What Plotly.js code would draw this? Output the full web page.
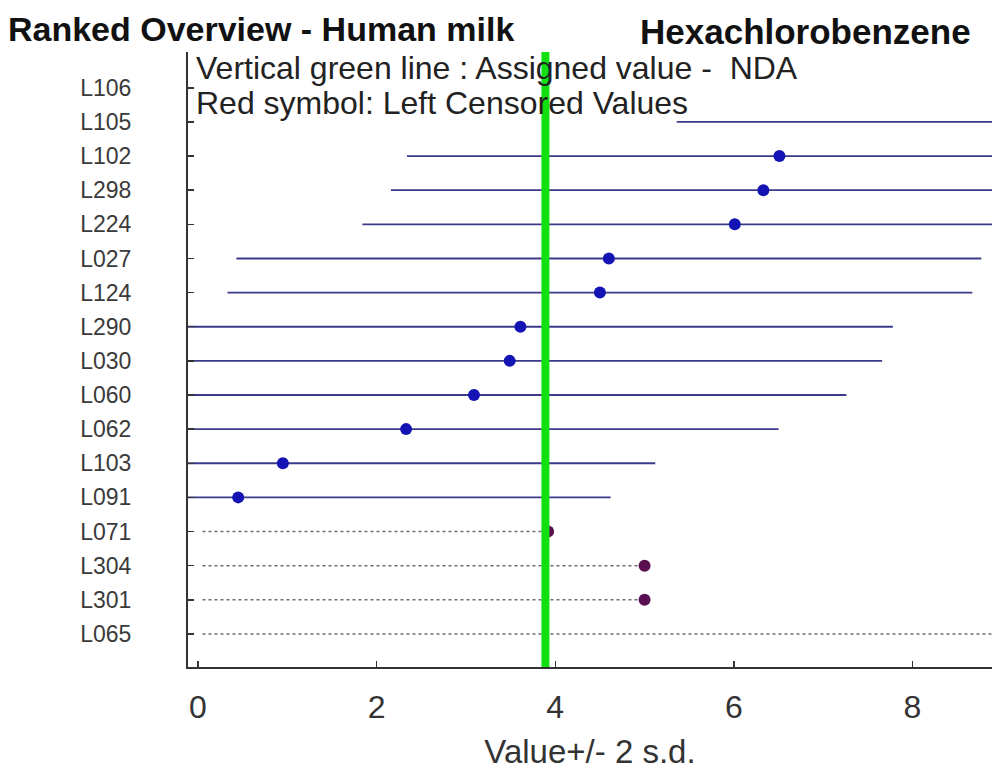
<!DOCTYPE html>
<html>
<head>
<meta charset="utf-8">
<script src="https://cdn.plot.ly/plotly-3.0.1.min.js"></script>
<style>html,body{margin:0;padding:0;background:#fff;}#chart{width:992px;height:773px;}</style>
</head>
<body>
<div id="chart"></div>
<script>
// Labs with reported values (bottom to top order within this group)
const reportedLabs = ["L091","L103","L062","L060","L030","L290","L124","L027","L224","L298","L102","L105","L106"];
const reportedValues = [0.45, 0.95, 2.33, 3.09, 3.49, 3.61, 4.50, 4.60, 6.01, 6.33, 6.51, 9.53, 14.0];
const twoSd = [4.17, 4.17, 4.17, 4.17, 4.17, 4.17, 4.17, 4.17, 4.17, 4.17, 4.17, 4.17, 4.17];

// Left censored labs ("<" values)
const censoredLabs = ["L065","L301","L304","L071"];
const censoredValues = [10.0, 5.0, 5.0, 3.92];

// All categories bottom -> top
const categories = ["L065","L301","L304","L071","L091","L103","L062","L060","L030","L290","L124","L027","L224","L298","L102","L105","L106"];

const assignedValue = 3.89;
const xTicks = [0, 2, 4, 6, 8];

// dotted lines from 0 to the censored value
const cx = [], cy = [];
censoredLabs.forEach((lab, i) => { cx.push(0.05, censoredValues[i], null); cy.push(lab, lab, null); });

const traces = [
  {
    type: 'scatter', mode: 'lines', x: cx, y: cy,
    line: {color: '#6e6e6e', width: 1.5, dash: 'dot'},
    hoverinfo: 'skip', showlegend: false
  },
  {
    type: 'scatter', mode: 'markers', x: reportedValues, y: reportedLabs,
    marker: {color: '#1414b4', size: 12},
    error_x: {type: 'data', array: twoSd, visible: true, color: '#3a3a88', thickness: 1.8, width: 0},
    showlegend: false
  },
  {
    type: 'scatter', mode: 'markers', x: censoredValues, y: censoredLabs,
    marker: {color: '#5a1050', size: 12},
    showlegend: false
  }
];

const layout = {
  width: 992, height: 773,
  margin: {l: 188, r: 0, t: 52, b: 106},
  paper_bgcolor: '#fff', plot_bgcolor: '#fff',
  font: {family: 'Liberation Sans, Arial, sans-serif', color: '#222'},
  title: {
    text: '<b>Ranked Overview - Human milk</b>',
    x: 0.008, xref: 'container', xanchor: 'left', y: 0.962, yref: 'container', yanchor: 'middle',
    font: {size: 34, color: '#111'}
  },
  xaxis: {
    range: [-0.112, 8.89], tickvals: xTicks, ticktext: xTicks.map(String),
    ticks: 'inside', ticklen: 6, tickcolor: '#333', tickwidth: 1.5,
    showline: true, linecolor: '#333', linewidth: 2, zeroline: false, showgrid: false,
    tickfont: {size: 32, color: '#333'}, ticklabelstandoff: 11,
    title: {text: 'Value+/- 2 s.d.', font: {size: 33, color: '#333'}, standoff: 15}
  },
  yaxis: {
    type: 'category', categoryorder: 'array', categoryarray: categories,
    range: [-0.97, 17.05],
    ticks: 'inside', ticklen: 6, tickcolor: '#333', tickwidth: 1.5,
    showline: true, linecolor: '#333', linewidth: 2, showgrid: false, zeroline: false,
    tickfont: {size: 23, color: '#3a3a3a'}, ticklabelstandoff: 50
  },
  shapes: [{
    type: 'line', xref: 'x', yref: 'paper', x0: assignedValue, x1: assignedValue, y0: 0, y1: 1,
    line: {color: '#10e010', width: 8}, layer: 'above'
  }],
  annotations: [
    {text: '<b>Hexachlorobenzene</b>', xref: 'paper', yref: 'paper', x: 0.56, y: 1.0, yshift: 21,
     xanchor: 'left', yanchor: 'middle', showarrow: false, font: {size: 35, color: '#111'}},
    {text: 'Vertical green line : Assigned value -  NDA', xref: 'paper', yref: 'paper', x: 0, xshift: 6,
     y: 1, yshift: -16, xanchor: 'left', yanchor: 'middle', showarrow: false, font: {size: 32, color: '#222'}},
    {text: 'Red symbol: Left Censored Values', xref: 'paper', yref: 'paper', x: 0, xshift: 6,
     y: 1, yshift: -51, xanchor: 'left', yanchor: 'middle', showarrow: false, font: {size: 32, color: '#222'}}
  ]
};

Plotly.newPlot('chart', traces, layout, {displayModeBar: false, staticPlot: true});
</script>
</body>
</html>
